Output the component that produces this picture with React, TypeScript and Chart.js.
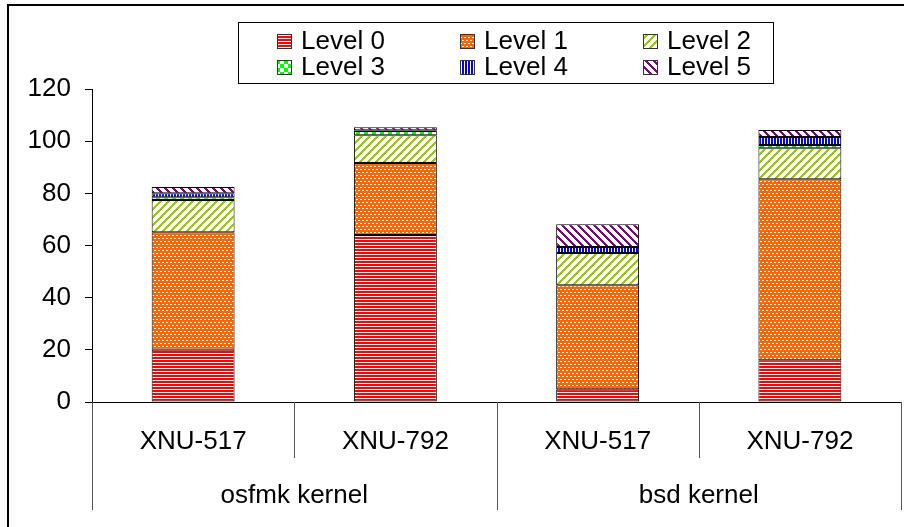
import { useEffect, useRef } from 'react';
import { Chart, registerables } from 'chart.js';

Chart.register(...registerables);

// ---- data ----
const categories = ['XNU-517', 'XNU-792', 'XNU-517', 'XNU-792'];
const groups = ['osfmk kernel', 'bsd kernel'];
const groupSpans = [2, 2];
const seriesNames = ['Level 0', 'Level 1', 'Level 2', 'Level 3', 'Level 4', 'Level 5'];
const level0 = [20, 64, 4.9, 16];
const level1 = [45.1, 27.6, 39.9, 69.4];
const level2 = [12.3, 10.7, 12.3, 11.9];
const level3 = [1.1, 1.6, 0, 1.2];
const level4 = [1.5, 0.3, 2.3, 3.1];
const level5 = [2.4, 1.1, 8.7, 2.7];
const yMin = 0;
const yMax = 120;
const yStep = 20;

const FONT = '"Liberation Sans", Arial, sans-serif';

type Kind = 'hstripe' | 'brick' | 'fwdiag' | 'checker' | 'vstripe' | 'bkdiag';

function makePattern(kind: Kind): CanvasPattern | string {
  const c = document.createElement('canvas');
  let w = 8, h = 8;
  if (kind === 'hstripe') { w = 1; h = 3; }
  if (kind === 'brick') { w = 4; h = 6; }
  if (kind === 'vstripe') { w = 3; h = 1; }
  c.width = w; c.height = h;
  const g = c.getContext('2d');
  if (!g) return '#888';
  g.fillStyle = '#fff';
  g.fillRect(0, 0, w, h);
  const px = (x: number, y: number, col: string) => { g.fillStyle = col; g.fillRect(x, y, 1, 1); };
  for (let y = 0; y < h; y++) {
    for (let x = 0; x < w; x++) {
      switch (kind) {
        case 'hstripe':
          if (y < 2) px(x, y, '#FF0000');
          break;
        case 'brick': {
          const white = (y === 1 && x < 2) || (y === 4 && x >= 2);
          px(x, y, white ? '#FFFFFF' : '#FF6600');
          break;
        }
        case 'fwdiag':
          if ((x + y) % 8 < 3) px(x, y, '#99CC00');
          break;
        case 'checker':
          if ((Math.floor(x / 4) + Math.floor(y / 4)) % 2 === 0) px(x, y, '#00FF00');
          break;
        case 'vstripe':
          if (x < 2) px(x, y, '#0000FF');
          break;
        case 'bkdiag':
          if (((x - y) % 8 + 8) % 8 < 3) px(x, y, '#800080');
          break;
      }
    }
  }
  const p = g.createPattern(c, 'repeat');
  return p || '#888';
}

const patternKinds: Kind[] = ['hstripe', 'brick', 'fwdiag', 'checker', 'vstripe', 'bkdiag'];
const seriesValues = [level0, level1, level2, level3, level4, level5];

const legendPlugin = {
  id: 'boxLegend',
  afterDraw(chart: any) {
    const ctx: CanvasRenderingContext2D = chart.ctx;
    ctx.save();
    ctx.strokeStyle = '#000';
    ctx.lineWidth = 1;
    ctx.strokeRect(238.5, 22.5, 535, 61);
    const colX = [277, 460, 643];
    const rowY = [34, 60];
    const baseY = [49, 75];
    chart.data.datasets.forEach((ds: any, i: number) => {
      const col = i % 3;
      const row = Math.floor(i / 3);
      const x = colX[col];
      const y = rowY[row];
      ctx.fillStyle = ds.backgroundColor;
      ctx.fillRect(x, y, 15, 15);
      ctx.strokeStyle = '#333';
      ctx.strokeRect(x + 0.5, y + 0.5, 14, 14);
      ctx.fillStyle = '#000';
      ctx.font = `26px ${FONT}`;
      ctx.textAlign = 'left';
      ctx.textBaseline = 'alphabetic';
      ctx.fillText(ds.label, x + 24, baseY[row]);
    });
    ctx.restore();
  },
};

const groupAxisPlugin = {
  id: 'groupAxis',
  afterDraw(chart: any) {
    const ctx: CanvasRenderingContext2D = chart.ctx;
    const area = chart.chartArea;
    const n = categories.length;
    const cw = (area.right - area.left) / n;
    const shortBottom = 458;
    const longBottom = 510;
    const groupBounds = new Set<number>();
    let acc = 0;
    groupBounds.add(0);
    groupSpans.forEach((s) => { acc += s; groupBounds.add(acc); });
    ctx.save();
    ctx.strokeStyle = '#555';
    ctx.lineWidth = 1;
    for (let i = 0; i <= n; i++) {
      const x = Math.round(area.left + i * cw) + 0.5;
      ctx.beginPath();
      ctx.moveTo(x, area.bottom);
      ctx.lineTo(x, groupBounds.has(i) ? longBottom : shortBottom);
      ctx.stroke();
    }
    ctx.fillStyle = '#000';
    ctx.font = `26px ${FONT}`;
    ctx.textAlign = 'center';
    ctx.textBaseline = 'alphabetic';
    let start = 0;
    groups.forEach((gname, gi) => {
      const span = groupSpans[gi];
      const cx = area.left + (start + span / 2) * cw;
      ctx.fillText(gname, cx, 503);
      start += span;
    });
    ctx.restore();
  },
};

export default function App() {
  const ref = useRef<HTMLCanvasElement | null>(null);

  useEffect(() => {
    if (!ref.current) return;
    const datasets = seriesNames.map((name, i) => ({
      label: name,
      data: seriesValues[i],
      backgroundColor: makePattern(patternKinds[i]) as any,
      borderColor: '#000',
      borderWidth: 1,
      borderSkipped: false as const,
      barPercentage: 0.41,
      categoryPercentage: 1,
    }));
    const chart = new Chart(ref.current, {
      type: 'bar',
      data: { labels: categories, datasets },
      options: {
        animation: false,
        responsive: false,
        layout: { padding: { top: 89, right: 3, left: 0, bottom: 0 } },
        plugins: {
          legend: { display: false },
          tooltip: { enabled: false },
        },
        scales: {
          x: {
            stacked: true,
            offset: true,
            grid: { display: false, drawTicks: false },
            border: { display: true, color: '#000', width: 1 },
            ticks: {
              color: '#000',
              font: { family: FONT, size: 26 },
              padding: 24,
              maxRotation: 0,
              autoSkip: false,
            },
            afterFit: (s: any) => { s.height = 125; },
          },
          y: {
            stacked: true,
            min: yMin,
            max: yMax,
            grid: {
              display: true,
              drawOnChartArea: false,
              drawTicks: true,
              tickLength: 7,
              color: '#000',
            },
            border: { display: true, color: '#000', width: 1 },
            ticks: {
              stepSize: yStep,
              color: '#000',
              font: { family: FONT, size: 26 },
              padding: 14,
            },
            afterFit: (s: any) => { s.width = 92; },
          },
        },
      },
      plugins: [legendPlugin, groupAxisPlugin],
    });
    return () => chart.destroy();
  }, []);

  return (
    <div style={{ position: 'absolute', left: 0, top: 0, width: 904, height: 527, overflow: 'hidden', background: '#fff' }}>
      <div style={{ position: 'absolute', left: 7, top: 4, width: 1000, height: 1000, borderTop: '2px solid #000', borderLeft: '2px solid #000' }} />
      <canvas ref={ref} width={904} height={527} style={{ position: 'absolute', left: 0, top: 0, width: 904, height: 527 }} />
    </div>
  );
}
